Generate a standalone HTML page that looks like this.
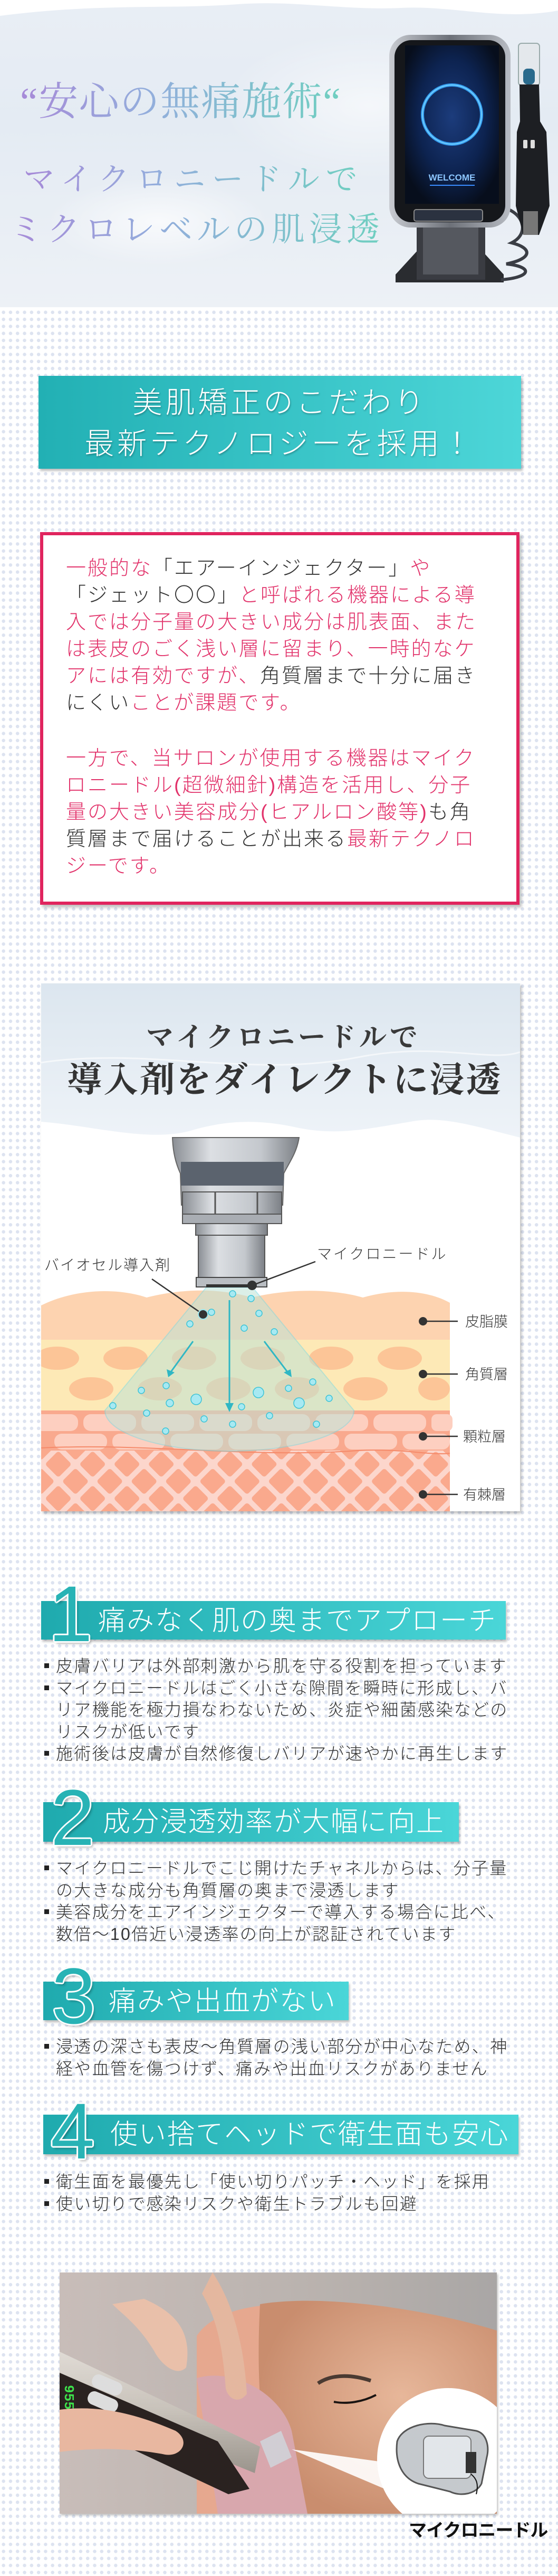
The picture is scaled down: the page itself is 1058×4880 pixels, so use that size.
<!DOCTYPE html>
<html><head><meta charset="utf-8">
<style>
*{margin:0;padding:0;box-sizing:border-box}
html,body{width:1058px;height:4880px;overflow:hidden}
body{position:relative;background-color:#fff;
background-image:radial-gradient(circle,#dde3f0 3px,transparent 3.5px);
background-size:13.3px 13.3px;background-position:0 0;
font-family:"Liberation Sans","Noto Sans CJK JP",sans-serif}
.abs{position:absolute}
.hero{left:0;top:0;width:1058px;height:582px;
background:radial-gradient(ellipse 300px 120px at 300px 420px,rgba(255,255,255,.7),transparent 70%),
radial-gradient(ellipse 400px 200px at 700px 200px,rgba(255,255,255,.6),transparent 70%),
linear-gradient(180deg,#e9eef5 0%,#e4ebf3 40%,#edf1f6 100%)}
.htxt{font-family:"Liberation Serif","Noto Serif CJK JP",serif;white-space:nowrap;
background:linear-gradient(90deg,#a78ad8 0%,#93aedc 40%,#6fcfc0 100%);-webkit-background-clip:text;background-clip:text;color:transparent}
.banner{background:linear-gradient(90deg,#22b0b4,#4dd6d8);box-shadow:3px 4px 4px rgba(0,0,0,.25);color:#fff;text-align:center}
.pink{color:#e2336b}.dk{color:#333}
.ptext{font-family:"Liberation Sans","Noto Sans CJK JP",sans-serif;font-size:38px;line-height:51px;letter-spacing:3px;white-space:nowrap;font-weight:300}
.hbar{background:linear-gradient(90deg,#1faaae,#4ad6d8);box-shadow:2px 4px 4px rgba(0,0,0,.25);color:#fff;font-size:52px;line-height:1;white-space:nowrap;font-weight:300;letter-spacing:2px}
.num{font-family:"Liberation Sans","DejaVu Sans",sans-serif;color:#28b3b5;font-size:150px;line-height:1;
text-shadow:3px 0 #fff,-3px 0 #fff,0 3px #fff,0 -3px #fff,2px 2px #fff,-2px -2px #fff,2px -2px #fff,-2px 2px #fff,4px 5px 4px rgba(0,0,0,.25)}
.bul{font-size:32px;line-height:41.5px;letter-spacing:2.3px;color:#333;white-space:nowrap;font-weight:300}
.bul div{position:relative;padding-left:22px}
.bul div.c::before{content:"";position:absolute;left:0;top:15px;width:9px;height:9px;background:#222}
</style></head><body>

<div class="abs hero"></div>
<svg class="abs" style="left:0;top:0" width="1058" height="60"><path d="M0 0 H1058 V20 C950 40 860 10 760 15 C650 20 560 0 450 8 C320 18 200 5 0 30 Z" fill="#fff"/></svg>

<div class="abs htxt" style="left:38px;top:148px;font-size:75px;line-height:92px;letter-spacing:2px">“安心の無痛施術“</div>
<div class="abs htxt" style="left:44px;top:300px;font-size:60px;line-height:80px;letter-spacing:12px">マイクロニードルで</div>
<div class="abs htxt" style="left:18px;top:392px;font-size:63px;line-height:86px;letter-spacing:8px">ミクロレベルの肌浸透</div>

<!-- device -->
<svg class="abs" style="left:730px;top:60px" width="328" height="520" viewBox="0 0 328 520">
<defs><radialGradient id="scr" cx="50%" cy="45%" r="60%"><stop offset="0" stop-color="#1c3c7c"/><stop offset=".6" stop-color="#0d2350"/><stop offset="1" stop-color="#070e1c"/></radialGradient>
<linearGradient id="frm" x1="0" x2="1"><stop offset="0" stop-color="#c9ccd2"/><stop offset=".5" stop-color="#6c7078"/><stop offset="1" stop-color="#b8bcc3"/></linearGradient></defs>
<path d="M75 400 L20 460 L20 475 L225 475 L225 460 L170 400Z" fill="#2a2c30"/>
<rect x="60" y="320" width="130" height="150" fill="#3a3c42"/>
<rect x="72" y="330" width="105" height="130" fill="#55585f"/>
<path d="M200 330 C260 330 280 380 240 400 C280 410 280 430 230 440 C280 445 280 465 220 470" stroke="#3a3d44" stroke-width="6" fill="none"/>
<rect x="8" y="6" width="230" height="365" rx="40" fill="url(#frm)"/>
<rect x="18" y="16" width="210" height="345" rx="32" fill="#15171b"/>
<rect x="38" y="26" width="178" height="300" fill="url(#scr)"/>
<circle cx="127" cy="157" r="56" fill="none" stroke="#3aa8ff" stroke-width="6" opacity=".9"/>
<circle cx="127" cy="157" r="56" fill="none" stroke="#6fd0ff" stroke-width="2"/>
<text x="127" y="282" text-anchor="middle" font-family="Liberation Sans,sans-serif" font-size="17" fill="#8cc6ff" font-weight="bold">WELCOME</text>
<rect x="85" y="290" width="85" height="2" fill="#3a8cff"/>
<rect x="55" y="337" width="130" height="22" rx="4" fill="#2b3240" stroke="#888" stroke-width="2"/>
<rect x="253" y="22" width="40" height="80" rx="6" fill="#e4e8ec" stroke="#9aa" stroke-width="2"/>
<rect x="262" y="70" width="22" height="30" rx="8" fill="#2a6a8c"/>
<path d="M255 100 L292 100 L294 170 L306 190 L312 330 L292 385 L262 385 L248 330 L250 190 L256 170Z" fill="#1d1f23"/>
<rect x="262" y="205" width="8" height="16" rx="2" fill="#ddd"/><rect x="276" y="205" width="8" height="16" rx="2" fill="#ddd"/>
<rect x="262" y="340" width="28" height="45" fill="#777"/>
</svg>

<div class="abs banner" style="left:73px;top:712px;width:915px;height:176px;font-size:56px;line-height:78px;padding-top:12px;letter-spacing:6px;font-weight:300;text-shadow:1px 2px 3px rgba(0,0,0,.3)">美肌矯正のこだわり<br>最新テクノロジーを採用！</div>

<!-- pink box -->
<div class="abs" style="left:76px;top:1008px;width:909px;height:706px;background:#fff;border:6px solid #e0245e;box-shadow:4px 5px 5px rgba(0,0,0,.25)"></div>
<div class="abs ptext" style="left:125px;top:1052px">
<span class="pink">一般的な</span><span class="dk">「エアーインジェクター」</span><span class="pink">や</span><br>
<span class="dk">「ジェット〇〇」</span><span class="pink">と呼ばれる機器による導</span><br>
<span class="pink">入では分子量の大きい成分は肌表面、また</span><br>
<span class="pink">は表皮のごく浅い層に留まり、一時的なケ</span><br>
<span class="pink">アには有効ですが、</span><span class="dk">角質層まで十分に届き</span><br>
<span class="dk">にくい</span><span class="pink">ことが課題です。</span>
</div>
<div class="abs ptext" style="left:125px;top:1412px">
<span class="pink">一方で、当サロンが使用する機器はマイク</span><br>
<span class="pink">ロニードル(超微細針)構造を活用し、分子</span><br>
<span class="pink">量の大きい美容成分(ヒアルロン酸等)</span><span class="dk">も角</span><br>
<span class="dk">質層まで届けることが出来る</span><span class="pink">最新テクノロ</span><br>
<span class="pink">ジーです。</span>
</div>

<!-- diagram -->
<svg class="abs" style="left:78px;top:1863px;box-shadow:3px 4px 5px rgba(0,0,0,.25)" width="908" height="1000" viewBox="0 0 908 1000">
<defs>
<linearGradient id="wat" x1="0" y1="0" x2="0" y2="1"><stop offset="0" stop-color="#dce6ef"/><stop offset="1" stop-color="#eef3f8"/></linearGradient>
<linearGradient id="metal" x1="0" x2="1"><stop offset="0" stop-color="#8a8e94"/><stop offset=".3" stop-color="#dcdfe3"/><stop offset=".7" stop-color="#c4c8cd"/><stop offset="1" stop-color="#7c8086"/></linearGradient>
<pattern id="dia" width="46" height="46" patternUnits="userSpaceOnUse" patternTransform="rotate(45)">
<rect width="46" height="46" fill="#fcd6cc"/>
<rect x="5" y="5" width="36" height="36" rx="5" fill="#faa98d"/>
</pattern>
</defs>
<rect width="908" height="1000" fill="#fff"/>
<path d="M0 0 H908 V292 C820 270 760 250 700 262 C620 275 560 290 480 272 C400 255 340 262 280 280 C200 300 100 270 0 262 Z" fill="url(#wat)"/>
<path d="M0 150 C200 120 400 180 600 140 C750 110 850 150 908 130" stroke="#fff" stroke-width="3" fill="none" opacity=".6"/>
<text x="459" y="120" text-anchor="middle" font-family="Liberation Serif,Noto Serif CJK JP,serif" font-size="52" letter-spacing="6" fill="#3a3a3a" font-weight="bold">マイクロニードルで</text>
<text x="462" y="205" text-anchor="middle" font-family="Liberation Serif,Noto Serif CJK JP,serif" font-size="66" letter-spacing="3" fill="#333" font-weight="bold">導入剤をダイレクトに浸透</text>
<!-- layers -->
<path d="M0 610 C60 580 140 575 200 595 C260 580 330 575 400 595 C470 578 550 578 610 595 C680 575 740 585 775 605 V680 H0Z" fill="#fdd3b0"/>
<rect x="0" y="675" width="775" height="134" fill="#fde9b6"/>
<g fill="#fcc597">
<ellipse cx="30" cy="710" rx="42" ry="22"/><ellipse cx="160" cy="710" rx="42" ry="22"/><ellipse cx="290" cy="710" rx="42" ry="22"/><ellipse cx="420" cy="710" rx="42" ry="22"/><ellipse cx="550" cy="710" rx="42" ry="22"/><ellipse cx="680" cy="710" rx="42" ry="22"/>
<ellipse cx="95" cy="768" rx="42" ry="22"/><ellipse cx="225" cy="768" rx="42" ry="22"/><ellipse cx="355" cy="768" rx="42" ry="22"/><ellipse cx="485" cy="768" rx="42" ry="22"/><ellipse cx="615" cy="768" rx="42" ry="22"/><ellipse cx="745" cy="768" rx="30" ry="22"/>
</g>
<rect x="0" y="809" width="775" height="80" fill="#f9a98e"/>
<g fill="#fdcfc0">
<rect x="-20" y="816" width="90" height="32" rx="14"/><rect x="80" y="816" width="100" height="32" rx="14"/><rect x="190" y="816" width="100" height="32" rx="14"/><rect x="300" y="816" width="100" height="32" rx="14"/><rect x="410" y="816" width="100" height="32" rx="14"/><rect x="520" y="816" width="100" height="32" rx="14"/><rect x="630" y="816" width="100" height="32" rx="14"/><rect x="740" y="816" width="40" height="32" rx="10"/>
<rect x="25" y="853" width="100" height="30" rx="14"/><rect x="135" y="853" width="100" height="30" rx="14"/><rect x="245" y="853" width="100" height="30" rx="14"/><rect x="355" y="853" width="100" height="30" rx="14"/><rect x="465" y="853" width="100" height="30" rx="14"/><rect x="575" y="853" width="100" height="30" rx="14"/><rect x="685" y="853" width="90" height="30" rx="14"/>
</g>
<rect x="0" y="885" width="775" height="115" fill="url(#dia)"/>
<path d="M0 880 C200 870 400 900 600 885 C680 880 740 895 775 890" stroke="#f58a6a" stroke-width="2" fill="none"/>
<!-- cone -->
<path d="M313 576 L401 576 L593 809 A236 77 0 0 1 121 809 Z" fill="#bfe3d6" opacity=".55" stroke="#7fdbe2" stroke-width="2"/>
<line x1="357" y1="600" x2="357" y2="805" stroke="#2fb7c4" stroke-width="3"/>
<path d="M349 795 L357 812 L365 795Z" fill="#2fb7c4"/>
<line x1="288" y1="678" x2="243" y2="740" stroke="#2fb7c4" stroke-width="3"/><path d="M238 731 L241 746 L253 737Z" fill="#2fb7c4"/>
<line x1="423" y1="678" x2="470" y2="740" stroke="#2fb7c4" stroke-width="3"/><path d="M460 737 L475 746 L473 731Z" fill="#2fb7c4"/>
<g fill="#a7e9f2" stroke="#3cc3d6" stroke-width="1.5">
<circle cx="342" cy="568" r="6"/><circle cx="371" cy="561" r="6"/><circle cx="363" cy="588" r="6"/><circle cx="398" cy="597" r="6"/><circle cx="323" cy="623" r="6"/><circle cx="413" cy="625" r="6"/><circle cx="282" cy="645" r="6"/><circle cx="385" cy="653" r="6"/><circle cx="442" cy="660" r="6"/>
<circle cx="190" cy="771" r="6"/><circle cx="237" cy="762" r="6"/><circle cx="469" cy="767" r="6"/><circle cx="515" cy="755" r="6"/><circle cx="136" cy="800" r="6"/><circle cx="244" cy="795" r="7"/><circle cx="294" cy="788" r="10"/><circle cx="412" cy="775" r="10"/><circle cx="489" cy="795" r="10"/><circle cx="380" cy="802" r="6"/><circle cx="546" cy="786" r="6"/><circle cx="200" cy="814" r="6"/><circle cx="309" cy="825" r="6"/><circle cx="433" cy="819" r="6"/><circle cx="363" cy="835" r="6"/><circle cx="522" cy="835" r="6"/><circle cx="236" cy="848" r="6"/>
</g>
<!-- handpiece -->
<path d="M249 292 L489 292 C485 320 470 340 460 360 L458 420 L266 420 L264 360 C255 340 250 320 249 292Z" fill="url(#metal)" stroke="#666" stroke-width="2"/>
<rect x="265" y="338" width="195" height="45" fill="#5b636e"/>
<rect x="268" y="395" width="188" height="42" fill="url(#metal)" stroke="#555" stroke-width="2"/>
<line x1="330" y1="395" x2="330" y2="437" stroke="#555" stroke-width="3"/><line x1="410" y1="395" x2="410" y2="437" stroke="#555" stroke-width="3"/>
<rect x="268" y="437" width="188" height="18" fill="#a9adb3" stroke="#555" stroke-width="2"/>
<rect x="293" y="455" width="136" height="22" fill="url(#metal)" stroke="#555" stroke-width="2"/>
<rect x="298" y="477" width="126" height="80" fill="url(#metal)" stroke="#555" stroke-width="2"/>
<rect x="294" y="557" width="134" height="18" fill="#b9bdc2" stroke="#444" stroke-width="2"/>
<rect x="313" y="570" width="88" height="6" fill="#333"/>
<!-- labels -->
<text x="6" y="543" font-size="28" fill="#333" font-family="Liberation Sans,Noto Sans CJK JP,sans-serif" letter-spacing="2" font-weight="300">バイオセル導入剤</text>
<line x1="210" y1="560" x2="307" y2="627" stroke="#333" stroke-width="2.5"/><circle cx="307" cy="627" r="9" fill="#333" stroke="#9de7f0" stroke-width="2"/>
<text x="523" y="522" font-size="28" fill="#333" font-family="Liberation Sans,Noto Sans CJK JP,sans-serif" letter-spacing="3" font-weight="300">マイクロニードル</text>
<line x1="520" y1="527" x2="400" y2="572" stroke="#333" stroke-width="2.5"/><circle cx="400" cy="572" r="9" fill="#333"/>
<g fill="#333" font-size="27" font-family="Liberation Sans,Noto Sans CJK JP,sans-serif" font-weight="300">
<circle cx="724" cy="640" r="8"/><line x1="724" y1="640" x2="790" y2="640" stroke="#333" stroke-width="2.5"/><text x="804" y="650">皮脂膜</text>
<circle cx="724" cy="740" r="8"/><line x1="724" y1="740" x2="790" y2="740" stroke="#333" stroke-width="2.5"/><text x="804" y="750">角質層</text>
<circle cx="724" cy="858" r="8"/><line x1="724" y1="858" x2="790" y2="858" stroke="#333" stroke-width="2.5"/><text x="800" y="868">顆粒層</text>
<circle cx="724" cy="968" r="8"/><line x1="724" y1="968" x2="790" y2="968" stroke="#333" stroke-width="2.5"/><text x="800" y="978">有棘層</text>
</g>
</svg>

<!-- heading 1 -->
<div class="abs hbar" style="left:78px;top:3033px;width:881px;height:73px;padding:12px 0 0 108px">痛みなく肌の奥までアプローチ</div>
<div class="abs num" style="left:92px;top:2982px">1</div>
<div class="abs bul" style="left:84px;top:3136px">
<div class="c">皮膚バリアは外部刺激から肌を守る役割を担っています</div>
<div class="c">マイクロニードルはごく小さな隙間を瞬時に形成し、バ</div>
<div>リア機能を極力損なわないため、炎症や細菌感染などの</div>
<div>リスクが低いです</div>
<div class="c">施術後は皮膚が自然修復しバリアが速やかに再生します</div>
</div>

<div class="abs hbar" style="left:82px;top:3414px;width:788px;height:75px;padding:12px 0 0 113px">成分浸透効率が大幅に向上</div>
<div class="abs num" style="left:96px;top:3368px">2</div>
<div class="abs bul" style="left:84px;top:3519px">
<div class="c">マイクロニードルでこじ開けたチャネルからは、分子量</div>
<div>の大きな成分も角質層の奥まで浸透します</div>
<div class="c">美容成分をエアインジェクターで導入する場合に比べ、</div>
<div>数倍～10倍近い浸透率の向上が認証されています</div>
</div>

<div class="abs hbar" style="left:82px;top:3754px;width:579px;height:73px;padding:12px 0 0 124px">痛みや出血がない</div>
<div class="abs num" style="left:98px;top:3706px">3</div>
<div class="abs bul" style="left:84px;top:3857px">
<div class="c">浸透の深さも表皮～角質層の浅い部分が中心なため、神</div>
<div>経や血管を傷つけず、痛みや出血リスクがありません</div>
</div>

<div class="abs hbar" style="left:82px;top:4006px;width:901px;height:75px;padding:12px 0 0 127px">使い捨てヘッドで衛生面も安心</div>
<div class="abs num" style="left:96px;top:3962px">4</div>
<div class="abs bul" style="left:84px;top:4113px">
<div class="c">衛生面を最優先し「使い切りパッチ・ヘッド」を採用</div>
<div class="c">使い切りで感染リスクや衛生トラブルも回避</div>
</div>

<!-- photo -->
<svg class="abs" style="left:113px;top:4305px;box-shadow:2px 3px 4px rgba(0,0,0,.25)" width="829" height="457" viewBox="0 0 829 457">
<defs>
<linearGradient id="bg" x1="0" x2="1"><stop offset="0" stop-color="#c8bdb9"/><stop offset=".6" stop-color="#b9b2ae"/><stop offset="1" stop-color="#a9a6a5"/></linearGradient>
<radialGradient id="face" cx="60%" cy="45%" r="60%"><stop offset="0" stop-color="#e7b79a"/><stop offset="1" stop-color="#c98d6e"/></radialGradient>
<linearGradient id="pen" x1="0" y1="0" x2="0" y2="1"><stop offset="0" stop-color="#e0dbd5"/><stop offset=".5" stop-color="#c7c1b9"/><stop offset="1" stop-color="#9a948c"/></linearGradient>
</defs>
<rect width="829" height="457" fill="url(#bg)"/>
<path d="M260 120 C300 60 420 50 520 70 C640 90 760 110 829 130 V457 H260Z" fill="#e6a88f"/>
<path d="M380 60 C500 40 700 70 829 110 V457 H430 C390 380 370 250 380 60Z" fill="url(#face)"/>
<path d="M260 200 C330 180 420 230 440 300 L470 457 H300Z" fill="#d8a7ad"/>
<path d="M490 210 C520 190 560 195 590 205" stroke="#4a3a32" stroke-width="7" fill="none"/>
<path d="M520 245 C545 250 575 245 600 232" stroke="#1a1412" stroke-width="4" fill="none"/>
<path d="M290 0 C330 60 350 140 355 230 C340 250 320 240 315 220 C310 150 300 90 270 40Z" fill="#e4b79f"/>
<path d="M160 50 C230 80 250 120 240 180 C220 200 190 170 180 150 C150 100 120 80 100 60Z" fill="#e9c0aa"/>
<path d="M0 150 L380 330 L370 380 L0 230Z" fill="url(#pen)"/>
<path d="M0 190 L300 320 L360 410 L320 420 L0 270Z" fill="#2a2220"/>
<rect x="60" y="200" width="60" height="26" rx="12" fill="#ddd" transform="rotate(23 90 213)"/>
<rect x="52" y="232" width="60" height="26" rx="12" fill="#ddd" transform="rotate(23 82 245)"/>
<text x="8" y="235" fill="#3de04b" font-size="26" font-family="Liberation Mono,monospace" font-weight="bold" transform="rotate(90 20 225)">955</text>
<path d="M0 260 C80 250 150 270 220 300 C250 320 230 350 200 345 C150 335 80 330 0 340Z" fill="#e8b7a0"/>
<path d="M380 320 L420 300 L440 350 L400 370Z" fill="#cfd8dd" opacity=".8"/>
<path d="M440 335 L620 360 L640 420Z" fill="#fff" opacity=".9"/>
<circle cx="737" cy="354" r="135" fill="#fff"/>
<path d="M640 320 C650 290 700 280 730 290 L790 300 C810 305 815 330 810 350 L800 400 C790 420 760 425 740 415 L680 400 C650 390 635 360 640 320Z" fill="#c5c9cd" stroke="#555" stroke-width="3"/>
<rect x="690" y="310" width="90" height="80" rx="10" fill="#e2e6ea" stroke="#777" stroke-width="2"/>
<rect x="770" y="340" width="20" height="40" fill="#333"/>
<path d="M790 420 C795 400 790 390 780 382" stroke="#111" stroke-width="2" fill="none"/>
</svg>
<div class="abs" style="left:775px;top:4766px;font-size:34px;font-weight:bold;color:#111;letter-spacing:-1px;white-space:nowrap">マイクロニードル</div>
</body></html>
